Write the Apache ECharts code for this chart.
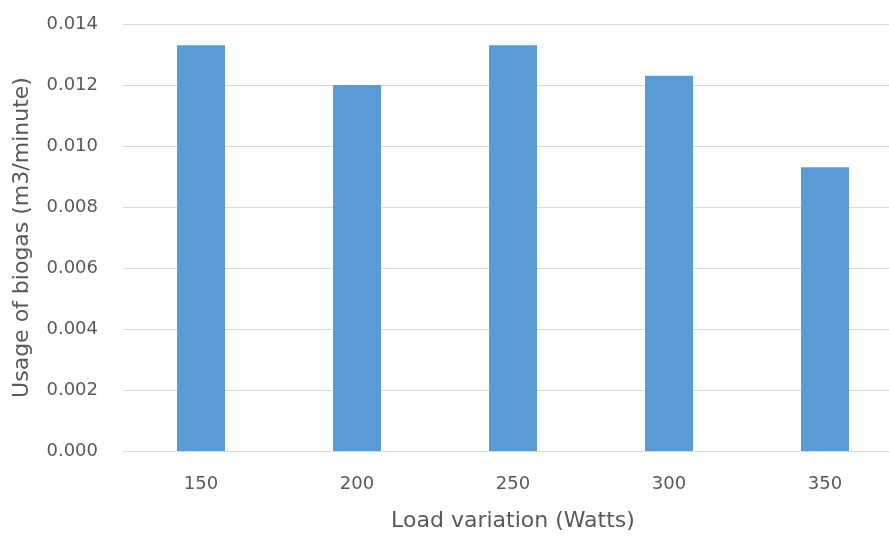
<!DOCTYPE html>
<html>
<head>
<meta charset="utf-8">
<script src="https://cdn.jsdelivr.net/npm/echarts@6/dist/echarts.min.js"></script>
<style>
  html, body { margin: 0; padding: 0; background: #ffffff; overflow: hidden; }
  /* the plot runs a little past the right edge of the visible page */
  #chart { width: 903px; height: 537px; }
</style>
</head>
<body>
<div id="chart"></div>
<script>
// Biogas usage at each electrical load step
const loads = ['150', '200', '250', '300', '350'];
const biogasUsage = [0.0133, 0.0120, 0.0133, 0.0123, 0.0093];
const yTicks = { min: 0, max: 0.014, interval: 0.002 };

const textColor = '#595959';
const gridColor = '#d9d9d9';
const fontFamily = '"DejaVu Sans", "Open Sans", sans-serif';

const chart = echarts.init(document.getElementById('chart'));
chart.setOption({
  animation: false,
  grid: { left: 123, top: 24, right: 0, bottom: 84 },
  xAxis: {
    type: 'category',
    data: loads,
    name: 'Load variation (Watts)',
    nameLocation: 'middle',
    nameGap: 59,
    nameTextStyle: { color: textColor, fontSize: 22, fontFamily },
    axisLine: { lineStyle: { color: gridColor, width: 1 } },
    axisTick: { show: false },
    axisLabel: { color: textColor, fontSize: 18, fontFamily, margin: 24 }
  },
  yAxis: {
    type: 'value',
    min: yTicks.min,
    max: yTicks.max,
    interval: yTicks.interval,
    name: 'Usage of biogas (m3/minute)',
    nameLocation: 'middle',
    nameGap: 90,
    nameTextStyle: { color: textColor, fontSize: 22, fontFamily },
    axisLine: { show: false },
    axisTick: { show: false },
    splitLine: { lineStyle: { color: gridColor, width: 1 } },
    axisLabel: {
      color: textColor, fontSize: 18, fontFamily, margin: 25,
      formatter: v => v.toFixed(3)
    }
  },
  series: [{
    type: 'bar',
    data: biogasUsage,
    barWidth: 48,
    itemStyle: { color: '#5b9bd5' }
  }]
});
</script>
</body>
</html>
